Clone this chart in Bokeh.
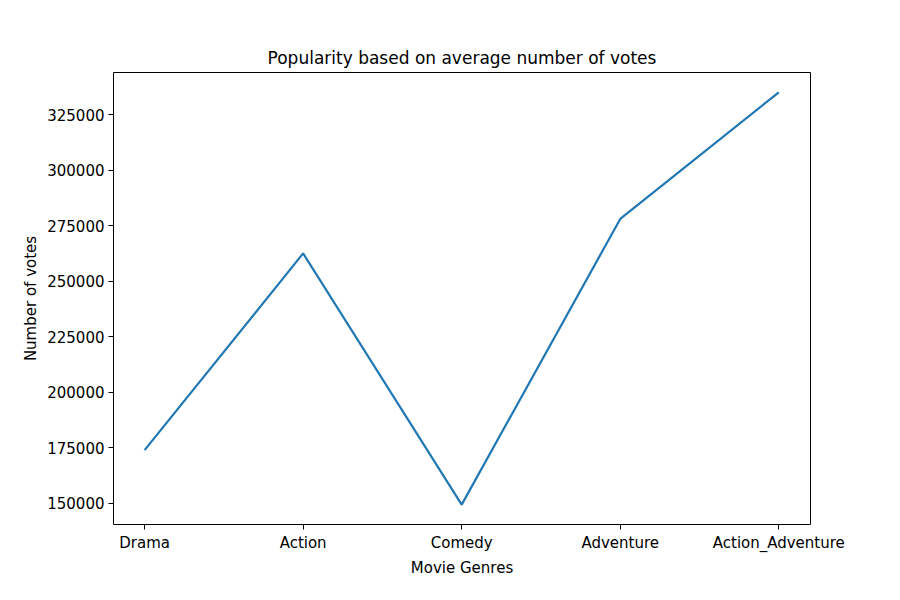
from bokeh.plotting import figure
from bokeh.models import FixedTicker, Range1d
from bokeh.embed import file_html
from bokeh.resources import INLINE

genres = ["Drama", "Action", "Comedy", "Adventure", "Action_Adventure"]
votes = [174000, 262500, 149500, 278000, 335000]
yticks = [150000, 175000, 200000, 225000, 250000, 275000, 300000, 325000]

xs = list(range(len(genres)))
p = figure(width=884, height=584, output_backend="svg", toolbar_location=None,
           x_range=Range1d(-0.196, 4.2), y_range=Range1d(140550, 343900),
           min_border_left=113, min_border_right=74, min_border_top=72, min_border_bottom=60,
           title="Popularity based on average number of votes")
p.line(xs, votes, line_color="#1f77b4", line_width=2.2)
p.title.align = "center"
p.title.text_font = "DejaVu Sans"
p.title.text_font_size = "17px"
p.title.text_font_style = "normal"
p.title.text_color = "black"
p.xgrid.visible = False
p.ygrid.visible = False
p.outline_line_color = "black"
p.xaxis.ticker = FixedTicker(ticks=xs)
p.xaxis.major_label_overrides = {i: g for i, g in enumerate(genres)}
p.yaxis.ticker = FixedTicker(ticks=yticks)
p.yaxis.formatter.use_scientific = False
p.xaxis.axis_label = "Movie Genres"
p.yaxis.axis_label = "Number of votes"
for ax in (p.xaxis[0], p.yaxis[0]):
    ax.minor_tick_line_color = None
    ax.major_tick_in = 0
    ax.major_tick_out = 5
    ax.major_label_text_font = "DejaVu Sans"
    ax.major_label_text_font_size = "15px"
    ax.major_label_text_color = "black"
    ax.axis_label_text_font = "DejaVu Sans"
    ax.axis_label_text_font_size = "15px"
    ax.axis_label_text_font_style = "normal"
    ax.axis_label_text_color = "black"
    ax.axis_line_color = None
    ax.major_tick_line_color = "black"
    ax.axis_label_standoff = 4
    ax.major_label_standoff = 4

open("out.html", "w").write(file_html(p, INLINE))
